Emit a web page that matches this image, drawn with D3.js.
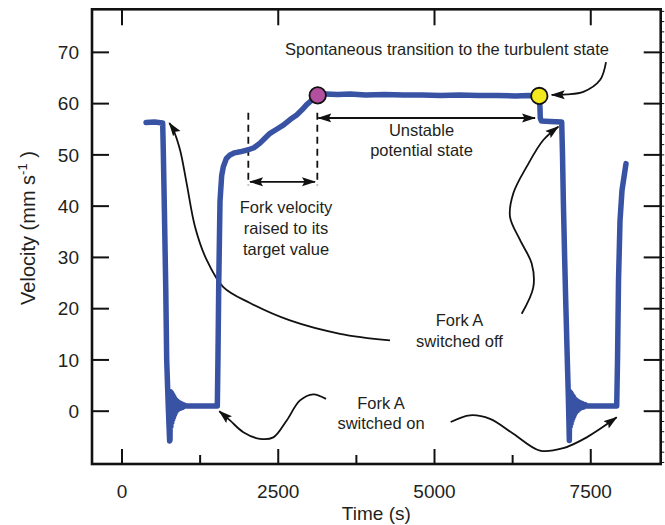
<!DOCTYPE html>
<html>
<head>
<meta charset="utf-8">
<script src="https://cdn.jsdelivr.net/npm/d3@7"></script>
<style>
  body { margin: 0; background: #fff; }
  svg text { font-family: "Liberation Sans", Arial, sans-serif; fill: #231f20; }
</style>
</head>
<body>
<div id="chart"></div>
<script>
// ticks
const xTicks = [0, 2500, 5000, 7500];
const xMinorTicks = [1250, 3750, 6250];
const yTicks = [0, 10, 20, 30, 40, 50, 60, 70];
const yMinorTicks = [-10, -8, -6, -4, -2, 0, 2, 4, 6, 8, 10, 12, 14, 16, 18, 20, 22, 24, 26, 28, 30, 32, 34, 36, 38,
  40, 42, 44, 46, 48, 50, 52, 54, 56, 58, 60, 62, 64, 66, 68, 70, 72, 74, 76, 78];

// velocity trace [time s, velocity mm/s]
const velocity = [
  [384, 56.3], [520, 56.4], [651, 56.2], [662, 50], [680, 38], [700, 24], [715, 10], [740, 1], [762, -5.8],
  [768, -5.6], [775, 3.8], [782, -3], [789, 3.6], [796, -2.2], [803, 3.3], [810, -1.6], [817, 3.0], [824, -1.1],
  [831, 2.7], [838, -0.7], [846, 2.4], [854, -0.3], [862, 2.2], [870, 0], [880, 2.0], [890, 0.3], [900, 1.8],
  [912, 0.5], [925, 1.6], [940, 0.6], [955, 1.4], [975, 0.8], [1000, 1.2], [1030, 1.0], [1300, 1.0], [1525, 1.0],
  [1535, 10], [1548, 25], [1568, 41], [1595, 46], [1621, 47.7], [1670, 49.3], [1728, 50], [1800, 50.4],
  [1888, 50.6], [2021, 51], [2110, 51.4], [2208, 52.3], [2290, 53.3], [2368, 54.2], [2475, 55], [2581, 55.8],
  [2690, 56.9], [2795, 57.8], [2880, 58.8], [2955, 59.8], [3050, 60.8], [3131, 61.6],
  [3250, 61.9], [3450, 61.8], [3650, 61.9], [3900, 61.7], [4200, 61.8], [4500, 61.7], [4800, 61.7],
  [5100, 61.6], [5400, 61.7], [5700, 61.6], [6000, 61.6], [6300, 61.5], [6500, 61.6], [6677, 61.5],
  [6688, 59], [6692, 57.2], [6710, 56.6], [6850, 56.5], [7035, 56.4],
  [7048, 50], [7061, 41.2], [7080, 31], [7099, 21.7], [7125, 9.9], [7141, 3], [7157, -5.7],
  [7164, 3.8], [7171, -3], [7178, 3.6], [7185, -2.4], [7192, 3.3], [7199, -1.8], [7206, 3.0], [7213, -1.3],
  [7220, 2.8], [7228, -0.9], [7236, 2.5], [7245, -0.5], [7254, 2.3], [7263, -0.2], [7273, 2.1], [7284, 0.1],
  [7296, 1.9], [7310, 0.4], [7325, 1.7], [7340, 0.6], [7360, 1.5], [7385, 0.8], [7410, 1.3], [7440, 1.0],
  [7700, 1.0], [7915, 1.0], [7928, 9.8], [7944, 25.5], [7968, 37.2], [8000, 43.1], [8064, 48.3]
];

// marked states
const markers = [
  { t: 3131, v: 61.6, fill: "#b24f9f" },
  { t: 6677, v: 61.5, fill: "#f4e91c" }
];

// annotation texts [time, velocity, text]
const labels = [
  [5200, 69.5, "Spontaneous transition to the turbulent state"],
  [4792, 53.6, "Unstable"],
  [4792, 49.7, "potential state"],
  [2624, 38.6, "Fork velocity"],
  [2624, 34.5, "raised to its"],
  [2624, 30.4, "target value"],
  [5400, 16.7, "Fork A"],
  [5400, 12.6, "switched off"],
  [4144, 0.5, "Fork A"],
  [4144, -3.4, "switched on"]
];

// curved pointer arrows (last point is the tip)
const pointers = [
  [[4288, 13.8], [3488, 15.1], [2688, 17.7], [2048, 21.1], [1621, 24.2], [1355, 29.5], [1168, 36.0],
   [1035, 44.4], [928, 51.0], [821, 54.9], [757, 56.2]],
  [[6395, 19.0], [6581, 24.2], [6555, 28.8], [6368, 33.4], [6208, 37.9], [6261, 42.5], [6475, 47.7],
   [6741, 52.9], [6981, 55.5]],
  [[7744, 68.1], [7648, 64.6], [7381, 62.3], [7115, 61.8], [6875, 61.7]],
  [[3264, 2.4], [3061, 3.3], [2848, 2.1], [2635, -1.8], [2421, -5.1], [2208, -5.4], [1941, -4.1],
   [1728, -1.8], [1557, 0]],
  [[5259, -2.1], [5568, -0.8], [5888, -1.5], [6261, -4.4], [6688, -7.7], [7061, -7.2], [7435, -5.1],
   [7915, -1.2]]
];

// double arrows [t1, t2, v]
const spans = [
  [2048, 3088, 44.75],
  [3141, 6608, 57.2]
];

// dashed guides [t, vTop, vBottom]
const guides = [
  [2021, 58.2, 44.1],
  [3125, 58.2, 44.1]
];

const width = 665, height = 525;
const frame = { left: 92, right: 660.7, top: 9.3, bottom: 464 };

const x = d3.scaleLinear().domain([-480, 8619]).range([frame.left, frame.right]);
const y = d3.scaleLinear().domain([-10.3, 78.4]).range([frame.bottom, frame.top]);

const svg = d3.select("#chart").append("svg")
  .attr("width", width)
  .attr("height", height);

const defs = svg.append("defs");
defs.append("marker")
  .attr("id", "head")
  .attr("markerUnits", "userSpaceOnUse")
  .attr("viewBox", "0 0 14 10")
  .attr("refX", 13).attr("refY", 5)
  .attr("markerWidth", 14).attr("markerHeight", 10)
  .attr("orient", "auto-start-reverse")
  .append("path")
  .attr("d", "M0,0.5 L14,5 L0,9.5 L2.5,5 Z")
  .attr("fill", "#111");

const ink = "#111";

// AXES
const tickLen = 17;
const axisG = svg.append("g").attr("stroke", ink).attr("stroke-width", 2);

axisG.selectAll(".xb").data(xTicks).join("line")
  .attr("x1", d => x(d)).attr("x2", d => x(d))
  .attr("y1", frame.bottom).attr("y2", frame.bottom - 15);
axisG.selectAll(".xbm").data(xMinorTicks).join("line")
  .attr("x1", d => x(d)).attr("x2", d => x(d))
  .attr("y1", frame.bottom).attr("y2", frame.bottom - 9);
axisG.selectAll(".xt").data(xTicks).join("line")
  .attr("x1", d => x(d)).attr("x2", d => x(d))
  .attr("y1", frame.top).attr("y2", frame.top + 16);

axisG.selectAll(".yl").data(yTicks).join("line")
  .attr("x1", frame.left).attr("x2", frame.left + tickLen)
  .attr("y1", d => y(d)).attr("y2", d => y(d));
axisG.selectAll(".yr").data(yTicks).join("line")
  .attr("x1", frame.right).attr("x2", frame.right - tickLen)
  .attr("y1", d => y(d)).attr("y2", d => y(d));
svg.append("g").attr("stroke", ink).attr("stroke-width", 1)
  .selectAll("line").data(yMinorTicks).join("line")
  .attr("x1", frame.right).attr("x2", frame.right + 3.5)
  .attr("y1", d => y(d)).attr("y2", d => y(d));

svg.append("rect")
  .attr("x", frame.left).attr("y", frame.top)
  .attr("width", frame.right - frame.left)
  .attr("height", frame.bottom - frame.top)
  .attr("fill", "none").attr("stroke", ink).attr("stroke-width", 2.6);

svg.append("g").selectAll("text").data(xTicks).join("text")
  .attr("x", d => x(d)).attr("y", 498)
  .attr("text-anchor", "middle")
  .attr("font-size", 19)
  .text(d => d);

svg.append("g").selectAll("text").data(yTicks).join("text")
  .attr("x", 79).attr("y", d => y(d))
  .attr("dy", "0.35em")
  .attr("text-anchor", "end")
  .attr("font-size", 19)
  .text(d => d);

svg.append("text")
  .attr("x", (frame.left + frame.right) / 2).attr("y", 520)
  .attr("text-anchor", "middle")
  .attr("font-size", 19)
  .text("Time (s)");

const yTitle = svg.append("text")
  .attr("transform", "translate(35,228) rotate(-90)")
  .attr("text-anchor", "middle")
  .attr("font-size", 20);
yTitle.append("tspan").text("Velocity (mm s");
yTitle.append("tspan").attr("font-size", 13).attr("dy", -8).text("-1");
yTitle.append("tspan").attr("dy", 8).text(" )");

// ANNOTATIONS
const curve = d3.line().x(d => x(d[0])).y(d => y(d[1])).curve(d3.curveCatmullRom.alpha(0.5));

svg.append("g").selectAll("path").data(pointers).join("path")
  .attr("d", curve)
  .attr("fill", "none")
  .attr("stroke", ink).attr("stroke-width", 1.8)
  .attr("marker-end", "url(#head)");

svg.append("g").selectAll("line").data(guides).join("line")
  .attr("x1", d => x(d[0])).attr("x2", d => x(d[0]))
  .attr("y1", d => y(d[1])).attr("y2", d => y(d[2]))
  .attr("stroke", ink).attr("stroke-width", 1.8)
  .attr("stroke-dasharray", "7,5");

svg.append("g").selectAll("line").data(spans).join("line")
  .attr("x1", d => x(d[0])).attr("x2", d => x(d[1]))
  .attr("y1", d => y(d[2])).attr("y2", d => y(d[2]))
  .attr("stroke", ink).attr("stroke-width", 1.8)
  .attr("marker-start", "url(#head)")
  .attr("marker-end", "url(#head)");

svg.append("g").selectAll("text").data(labels).join("text")
  .attr("x", d => x(d[0])).attr("y", d => y(d[1]))
  .attr("text-anchor", "middle")
  .attr("font-size", 16.5)
  .text(d => d[2]);

// TRACE
svg.append("path")
  .datum(velocity)
  .attr("d", d3.line().x(d => x(d[0])).y(d => y(d[1])))
  .attr("fill", "none")
  .attr("stroke", "#3953a4")
  .attr("stroke-width", 5.5)
  .attr("stroke-linejoin", "round")
  .attr("stroke-linecap", "round");

svg.append("g").selectAll("circle").data(markers).join("circle")
  .attr("cx", d => x(d.t)).attr("cy", d => y(d.v))
  .attr("r", 8.2)
  .attr("fill", d => d.fill)
  .attr("stroke", ink).attr("stroke-width", 1.8);
</script>
</body>
</html>
